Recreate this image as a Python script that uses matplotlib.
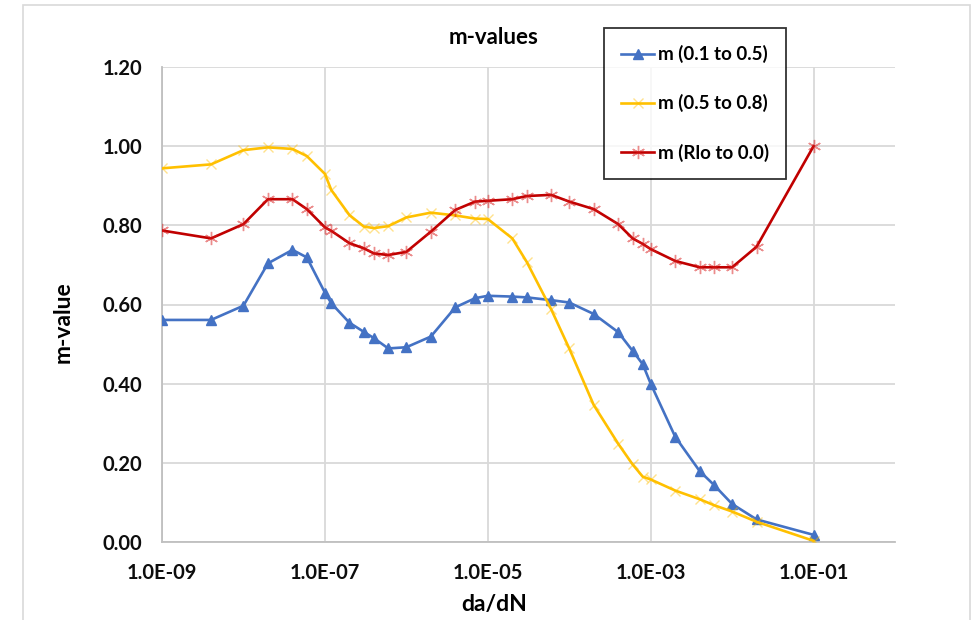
import matplotlib.pyplot as plt
from matplotlib.patches import Rectangle
from matplotlib.ticker import FixedLocator, FuncFormatter, NullLocator

plt.rcParams['font.family'] = ['Lato', 'DejaVu Sans']

# da/dN values shared by the three series
dadn = [1e-9, 4e-9, 1e-8, 2e-8, 4e-8, 6e-8, 1e-7, 1.2e-7, 2e-7, 3e-7, 4e-7, 6e-7,
        1e-6, 2e-6, 4e-6, 7e-6, 1e-5, 2e-5, 3e-5, 6e-5, 1e-4, 2e-4, 4e-4, 6e-4,
        8e-4, 1e-3, 2e-3, 4e-3, 6e-3, 1e-2, 2e-2, 1e-1]

m_01_05 = [0.561, 0.561, 0.597, 0.704, 0.738, 0.719, 0.630, 0.603, 0.554, 0.531, 0.515, 0.489,
           0.492, 0.519, 0.593, 0.616, 0.622, 0.620, 0.618, 0.611, 0.605, 0.576, 0.530, 0.483,
           0.449, 0.400, 0.266, 0.179, 0.144, 0.096, 0.057, 0.018]

m_05_08 = [0.944, 0.954, 0.990, 0.997, 0.993, 0.975, 0.930, 0.889, 0.826, 0.797, 0.793, 0.798,
           0.820, 0.832, 0.825, 0.817, 0.816, 0.767, 0.708, 0.588, 0.489, 0.346, 0.248, 0.196,
           0.165, 0.158, 0.130, 0.108, 0.093, 0.077, 0.051, 0.003]

m_rlo_00 = [0.787, 0.767, 0.803, 0.866, 0.866, 0.841, 0.795, 0.786, 0.755, 0.742, 0.729, 0.725,
            0.733, 0.784, 0.839, 0.860, 0.862, 0.866, 0.874, 0.877, 0.860, 0.841, 0.803, 0.767,
            0.753, 0.740, 0.710, 0.694, 0.694, 0.694, 0.746, 1.000]

labels = ['m (0.1 to 0.5)', 'm (0.5 to 0.8)', 'm (Rlo to 0.0)']
x_ticks = [1e-9, 1e-7, 1e-5, 1e-3, 1e-1]
y_ticks = [0.0, 0.2, 0.4, 0.6, 0.8, 1.0, 1.2]

fig = plt.figure(figsize=(9.79, 6.2), dpi=100)
# chart area border
fig.patches.append(Rectangle((23 / 979, -0.1), (970 - 23) / 979, 1.1 - 5 / 620,
                             transform=fig.transFigure, fill=False,
                             edgecolor='#D9D9D9', linewidth=1.2))

ax = fig.add_axes([162 / 979, 1 - 542 / 620, (895 - 162) / 979, (542 - 67) / 620])

ax.plot(dadn, m_01_05, color='#4472C4', lw=1.9, marker='^', ms=7,
        markerfacecolor='#4472C4', markeredgecolor='#4472C4', label=labels[0], zorder=3)
ax.plot(dadn, m_05_08, color='#FFC000', lw=1.9, marker='x', ms=7.5, mew=1.0,
        markeredgecolor=(1.0, 0.75, 0.0, 0.45), label=labels[1], zorder=3)
ax.plot(dadn, m_rlo_00, color='#C00000', lw=1.9, marker=(6, 2, 0), ms=9.5, mew=1.0,
        markeredgecolor=(0.85, 0.1, 0.1, 0.5), label=labels[2], zorder=3)

ax.set_xscale('log')
ax.set_xlim(1e-9, 1e0)
ax.set_ylim(0, 1.2)
ax.xaxis.set_major_locator(FixedLocator(x_ticks))
ax.xaxis.set_minor_locator(NullLocator())
ax.xaxis.set_major_formatter(FuncFormatter(lambda v, p: f"{v:.1E}"))
ax.set_yticks(y_ticks)
ax.yaxis.set_major_formatter(FuncFormatter(lambda v, p: f"{v:.2f}"))

ax.grid(True, color='#D9D9D9', lw=1.3)
ax.set_axisbelow(True)
for s in ['top', 'right']:
    ax.spines[s].set_visible(False)
for s in ['left', 'bottom']:
    ax.spines[s].set_color('#BFBFBF')
    ax.spines[s].set_linewidth(1.3)

ax.tick_params(axis='both', length=0, labelsize=14.5, labelcolor='#0D0D0D')
ax.tick_params(axis='x', pad=15)
ax.tick_params(axis='y', pad=14)
for t in ax.get_xticklabels() + ax.get_yticklabels():
    t.set_fontweight('bold')

ax.set_xlabel('da/dN', fontsize=16.5, fontweight='bold')
ax.xaxis.set_label_coords((494 - 162) / 733, (542 - 605) / 475)
ax.xaxis.label.set_va('center')
ax.set_ylabel('m-value', fontsize=16.5, fontweight='bold')
ax.yaxis.set_label_coords((63 - 162) / 733, (542 - 322) / 475)
ax.yaxis.label.set_va('center')
fig.text(494 / 979, 1 - 37 / 620, 'm-values', ha='center', va='center',
         fontsize=16, fontweight='bold')

leg = ax.legend(loc='upper left', bbox_to_anchor=(604 / 979, 1 - 28 / 620),
                bbox_transform=fig.transFigure, frameon=True, fancybox=False,
                prop={'weight': 'bold', 'size': 13.5}, labelspacing=1.66,
                borderpad=0.91, borderaxespad=0, handlelength=1.76, handletextpad=0.2)
leg.get_frame().set_edgecolor('black')
leg.get_frame().set_linewidth(1.3)

fig.savefig('out.png', dpi=100)
